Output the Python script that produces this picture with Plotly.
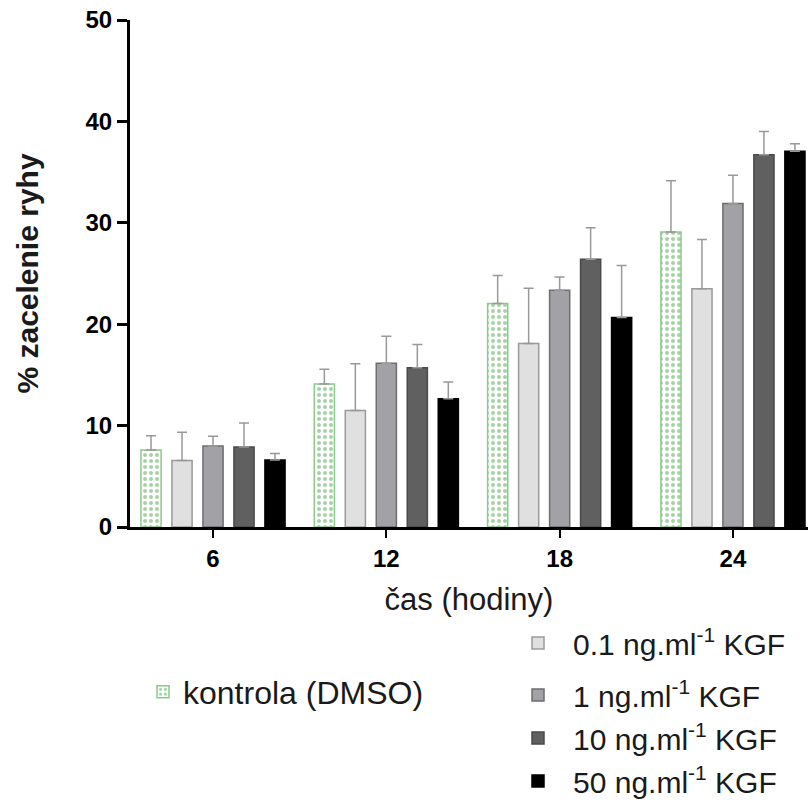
import plotly.graph_objects as go

hours = ["6", "12", "18", "24"]
series_names = [
    "kontrola (DMSO)",
    "0.1 ng.ml<sup>-1</sup> KGF",
    "1 ng.ml<sup>-1</sup> KGF",
    "10 ng.ml<sup>-1</sup> KGF",
    "50 ng.ml<sup>-1</sup> KGF",
]
kontrola = [7.6, 14.1, 22.05, 29.1]
kgf_01 = [6.55, 11.5, 18.1, 23.5]
kgf_1 = [8.0, 16.15, 23.35, 31.9]
kgf_10 = [7.9, 15.7, 26.4, 36.7]
kgf_50 = [6.6, 12.65, 20.65, 37.05]

err_kontrola = [1.4, 1.45, 2.75, 5.05]
err_01 = [2.8, 4.6, 5.45, 4.85]
err_1 = [0.95, 2.65, 1.3, 2.8]
err_10 = [2.35, 2.3, 3.1, 2.3]
err_50 = [0.65, 1.65, 5.15, 0.75]

values = [kontrola, kgf_01, kgf_1, kgf_10, kgf_50]
errors = [err_kontrola, err_01, err_1, err_10, err_50]
fills = ["#ffffff", "#e0e0e0", "#a1a1a6", "#606060", "#000000"]
edges = ["#8cc98c", "#9a9a9a", "#6e6e6e", "#4a4a4a", "#000000"]
legends = ["legend", "legend2", "legend3", "legend3", "legend3"]

FONT = "Liberation Sans, Arial, sans-serif"

fig = go.Figure()
for i, (name, vals, errs) in enumerate(zip(series_names, values, errors)):
    marker = dict(color=fills[i], line=dict(color=edges[i], width=1.5))
    if i == 0:
        marker["pattern"] = dict(shape=".", fgcolor="#4aa84a", bgcolor="#ffffff",
                                 size=6, solidity=0.35, fillmode="overlay")
    fig.add_trace(go.Bar(
        x=hours, y=vals, name=name, showlegend=True,
        marker=marker,
        error_y=dict(type="data", symmetric=False, array=errs,
                     arrayminus=[0] * len(errs),
                     color="#999999", thickness=1.5, width=5),
        legend=legends[i], legendgroup=str(i),
    ))

legend_font = dict(family=FONT, size=30, color="#1a1a1a")
H = 803
top, bottom = 20, 527
ph = bottom - top


def py(p):
    return (bottom - p) / ph


def px(p):
    return (p - 130) / 678


fig.update_layout(
    width=808, height=803,
    showlegend=True,
    margin=dict(l=130, r=0, t=top, b=H - bottom, autoexpand=False),
    paper_bgcolor="white", plot_bgcolor="white",
    barmode="group", bargap=0.106, bargroupgap=0.35,
    font=dict(family=FONT, color="#000000"),
    legend=dict(x=px(143), y=py(692), xanchor="left", yanchor="middle",
                font=dict(family=FONT, size=32, color="#1a1a1a"),
                bgcolor="rgba(0,0,0,0)"),
    legend2=dict(x=px(503), y=py(643), xanchor="left", yanchor="middle",
                 font=legend_font, bgcolor="rgba(0,0,0,0)", itemwidth=60),
    legend3=dict(x=px(503), y=py(669), xanchor="left", yanchor="top",
                 font=legend_font, bgcolor="rgba(0,0,0,0)", tracegroupgap=1,
                 itemwidth=60),
    xaxis=dict(
        range=[-0.479, 3.433], showgrid=False, zeroline=False,
        showline=True, linecolor="black", linewidth=3,
        ticks="outside", ticklen=8, tickwidth=2, tickcolor="black",
        tickfont=dict(family=FONT, size=24, color="black", weight="bold"),
        title=dict(text="čas (hodiny)", font=dict(family=FONT, size=31, color="#1a1a1a"),
                   standoff=18),
    ),
    yaxis=dict(
        range=[0, 50], dtick=10, showgrid=False, zeroline=False,
        showline=True, linecolor="black", linewidth=3,
        ticks="outside", ticklen=10, tickwidth=3, tickcolor="black",
        tickfont=dict(family=FONT, size=24, color="black", weight="bold"),
        title=dict(text="% zacelenie ryhy",
                   font=dict(family=FONT, size=30, color="#1a1a1a", weight="bold"),
                   standoff=38),
    ),
)

fig.write_html("out.html")
